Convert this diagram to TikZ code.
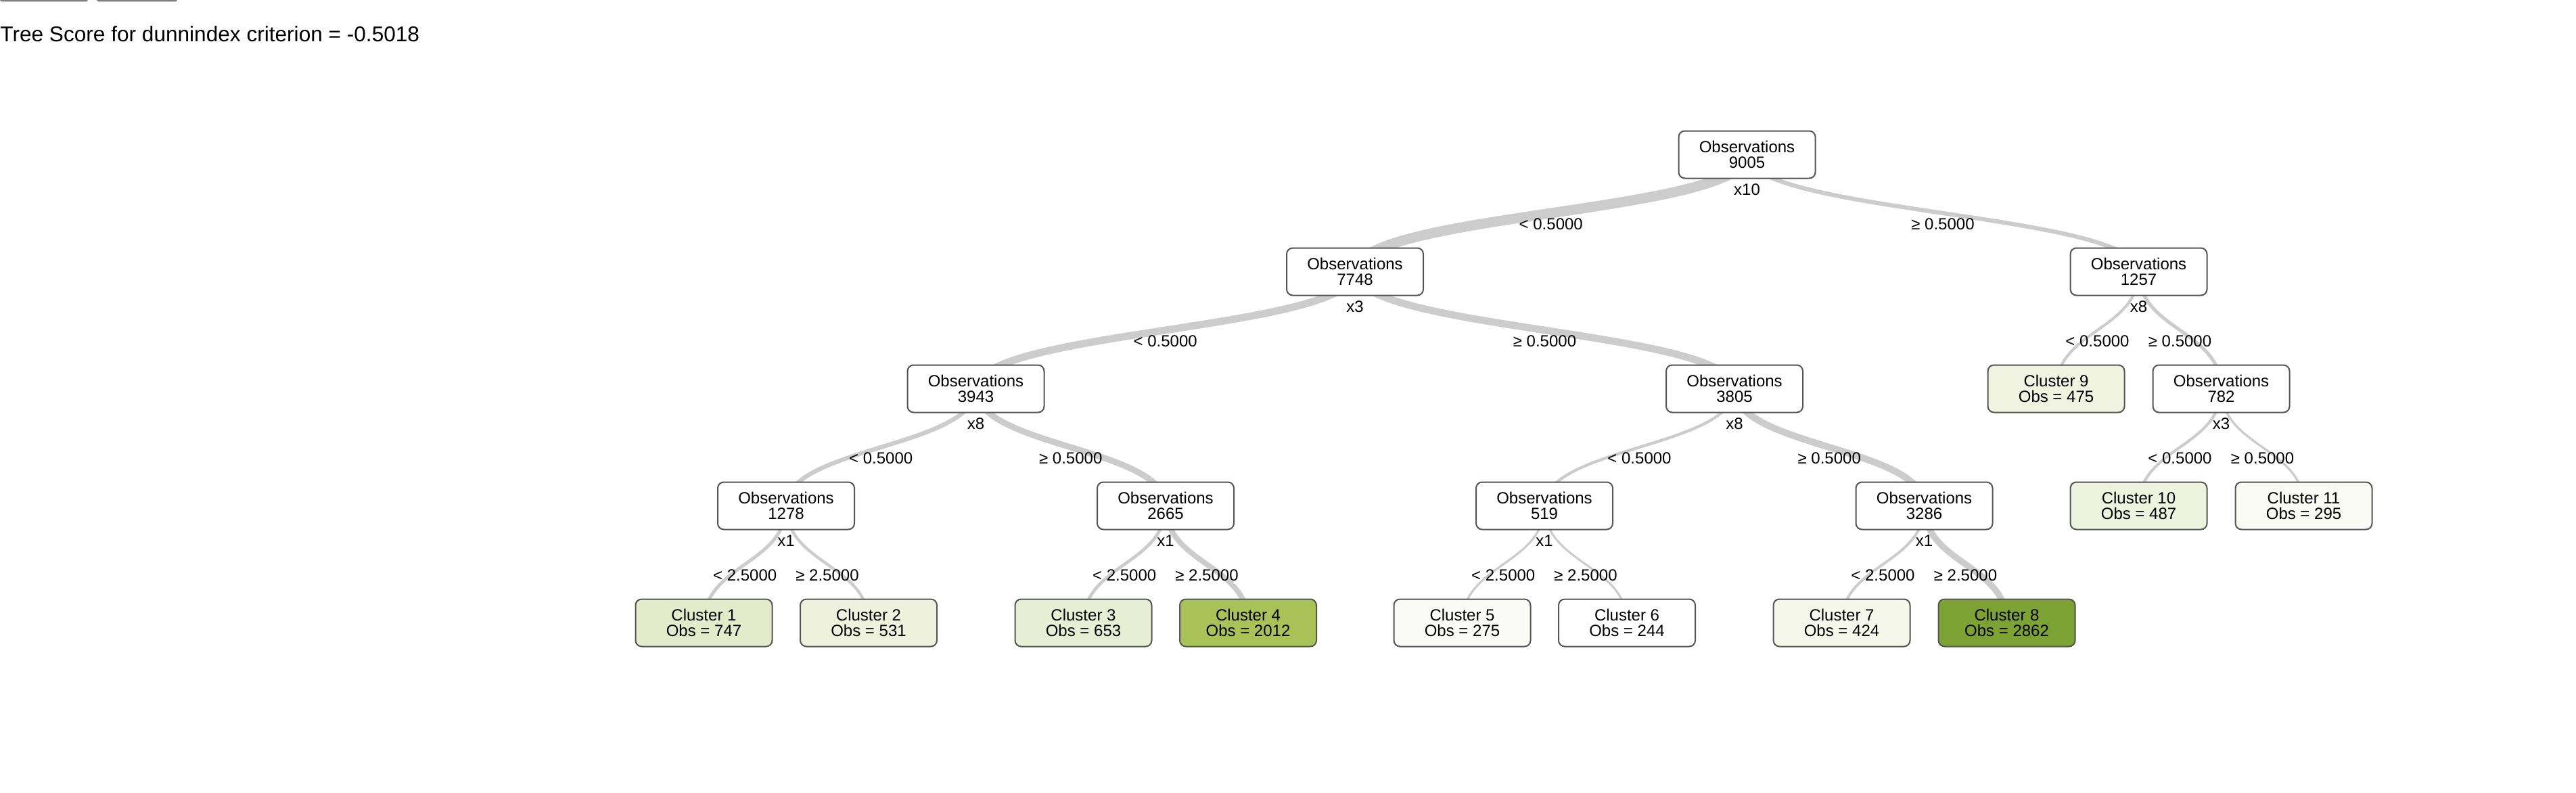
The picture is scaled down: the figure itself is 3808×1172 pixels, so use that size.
\documentclass[tikz,border=0pt]{standalone}
\usepackage{fontspec}
\setmainfont{Liberation Sans}
\usetikzlibrary{calc}
\pgfdeclarelayer{bg}
\pgfsetlayers{bg,main}
\definecolor{edgec}{HTML}{CCCCCC}
\definecolor{bordc}{HTML}{555555}
\definecolor{barc}{HTML}{7F7F7F}
\definecolor{fc1}{HTML}{E3EBCA}
\definecolor{fc2}{HTML}{EEF2DD}
\definecolor{fc3}{HTML}{E7EED3}
\definecolor{fc4}{HTML}{A8C257}
\definecolor{fc5}{HTML}{FAFBF6}
\definecolor{fc6}{HTML}{FFFFFF}
\definecolor{fc7}{HTML}{F4F7EA}
\definecolor{fc8}{HTML}{7CA233}
\definecolor{fc9}{HTML}{EFF3E0}
\definecolor{fc10}{HTML}{EEF3DF}
\definecolor{fc11}{HTML}{F9FAF3}
\newcommand\tedge[4]{%
  \begin{pgfonlayer}{bg}
  \draw[edgeline, line width=#3*0.5pt] (#1.center) .. controls ($(#1.center)+(0,86.5)$) and ($(#2.center)+(0,-86.5)$) .. (#2.center);
  \end{pgfonlayer}
  \path (#1.center) -- node[elabel] {#4} (#2.center);}
\newcommand\vlab[2]{\node[vlabel] at ([yshift=-3.9pt]#1.south) {#2};}
\begin{document}
\begin{tikzpicture}[x=0.5pt, y=-0.5pt,
  treebox/.style={draw=bordc, line width=1pt, rounded corners=4.5pt, minimum width=101pt, minimum height=35pt, inner sep=0pt, outer sep=0pt, align=center, font=\fontsize{12}{11.7}\selectfont, fill=white},
  edgeline/.style={draw=edgec},
  elabel/.style={inner sep=0pt, yshift=-8.2pt, font=\fontsize{12}{14}\selectfont},
  vlabel/.style={anchor=north, inner sep=0pt, font=\fontsize{12}{14}\selectfont}]
\useasboundingbox (0,0) rectangle (3808,1172);
% top bars
\fill[barc, rounded corners=1.5pt] (0,-10) rectangle (130,2.5);
\fill[barc, rounded corners=1.5pt] (143,-10) rectangle (262,2.5);
% title
\node[anchor=base west, inner sep=0pt, font=\fontsize{15.8}{19}\selectfont] (title) at (0,62) {Tree Score for dunnindex criterion = -0.5018};
% nodes
\node[treebox] (root) at (2582.5,228.5) {Observations\\9005};
\node[treebox] (n7748) at (2003,401.5) {Observations\\7748};
\node[treebox] (n1257) at (3161.5,401.5) {Observations\\1257};
\node[treebox] (n3943) at (1442.5,574.5) {Observations\\3943};
\node[treebox] (n3805) at (2564,574.5) {Observations\\3805};
\node[treebox, fill=fc9] (c9) at (3039.5,574.5) {Cluster 9\\Obs = 475};
\node[treebox] (n782) at (3283.5,574.5) {Observations\\782};
\node[treebox] (n1278) at (1162,747.5) {Observations\\1278};
\node[treebox] (n2665) at (1723,747.5) {Observations\\2665};
\node[treebox] (n519) at (2283,747.5) {Observations\\519};
\node[treebox] (n3286) at (2844.5,747.5) {Observations\\3286};
\node[treebox, fill=fc10] (c10) at (3161.5,747.5) {Cluster 10\\Obs = 487};
\node[treebox, fill=fc11] (c11) at (3405.5,747.5) {Cluster 11\\Obs = 295};
\node[treebox, fill=fc1] (c1) at (1040.5,920.5) {Cluster 1\\Obs = 747};
\node[treebox, fill=fc2] (c2) at (1284,920.5) {Cluster 2\\Obs = 531};
\node[treebox, fill=fc3] (c3) at (1601.5,920.5) {Cluster 3\\Obs = 653};
\node[treebox, fill=fc4] (c4) at (1845,920.5) {Cluster 4\\Obs = 2012};
\node[treebox, fill=fc5] (c5) at (2161.5,920.5) {Cluster 5\\Obs = 275};
\node[treebox, fill=fc6] (c6) at (2405,920.5) {Cluster 6\\Obs = 244};
\node[treebox, fill=fc7] (c7) at (2722.5,920.5) {Cluster 7\\Obs = 424};
\node[treebox, fill=fc8] (c8) at (2966.5,920.5) {Cluster 8\\Obs = 2862};
% variable labels
\vlab{root}{x10}
\vlab{n7748}{x3}
\vlab{n1257}{x8}
\vlab{n3943}{x8}
\vlab{n3805}{x8}
\vlab{n782}{x3}
\vlab{n1278}{x1}
\vlab{n2665}{x1}
\vlab{n519}{x1}
\vlab{n3286}{x1}
% edges
\tedge{root}{n7748}{15.0}{< 0.5000}
\tedge{root}{n1257}{6.3}{≥ 0.5000}
\tedge{n7748}{n3943}{10.9}{< 0.5000}
\tedge{n7748}{n3805}{10.7}{≥ 0.5000}
\tedge{n1257}{c9}{4.1}{< 0.5000}
\tedge{n1257}{n782}{5.1}{≥ 0.5000}
\tedge{n3943}{n1278}{6.4}{< 0.5000}
\tedge{n3943}{n2665}{9.0}{≥ 0.5000}
\tedge{n3805}{n519}{4.3}{< 0.5000}
\tedge{n3805}{n3286}{10.0}{≥ 0.5000}
\tedge{n782}{c10}{4.1}{< 0.5000}
\tedge{n782}{c11}{3.3}{≥ 0.5000}
\tedge{n1278}{c1}{5.0}{< 2.5000}
\tedge{n1278}{c2}{4.3}{≥ 2.5000}
\tedge{n2665}{c3}{4.7}{< 2.5000}
\tedge{n2665}{c4}{7.9}{≥ 2.5000}
\tedge{n519}{c5}{3.2}{< 2.5000}
\tedge{n519}{c6}{3.1}{≥ 2.5000}
\tedge{n3286}{c7}{3.9}{< 2.5000}
\tedge{n3286}{c8}{9.3}{≥ 2.5000}
\end{tikzpicture}
\end{document}
